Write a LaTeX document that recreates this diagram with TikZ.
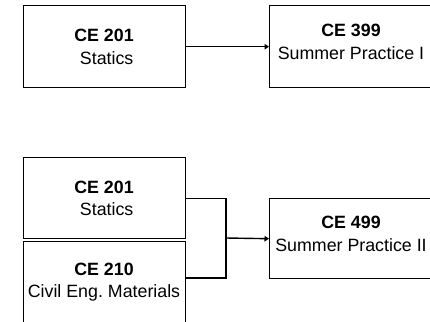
\documentclass[tikz,border=0pt]{standalone}
\usepackage{fontspec}
\setmainfont{Liberation Sans}
\usetikzlibrary{arrows.meta,calc}
\frenchspacing
\begin{document}
\begin{tikzpicture}[x=1pt,y=-1pt,
  box/.style={draw=black,line width=1.4pt,minimum width=162pt,minimum height=82pt,inner sep=0pt,anchor=north west},
  lbl/.style={align=center,inner sep=0pt,font=\fontsize{17.8pt}{22.5pt}\selectfont},
  conn/.style={line width=1.4pt,draw=black},
  arr/.style={conn,-{Triangle[length=4.5pt,width=5.5pt]}}]
\useasboundingbox (0,0) rectangle (430,321);
% top row
\node[box] (a201) at (23,5) {};
\node[box,minimum width=170pt] (a399) at (269,5) {};
\node[lbl] (ta201) at (104,47) {\textbf{CE 201}\\\hspace*{0.3em}Statics};
\node[lbl] (ta399) at (351,42) {\textbf{CE 399}\\Summer Practice I};
\draw[arr] (a201.east) -- (a399.west);
% bottom row
\node[box,minimum height=81pt] (b201) at (23,157) {};
\node[box,minimum height=90pt] (b210) at (23,241) {};
\node[box,minimum height=80pt,minimum width=170pt] (b499) at (269,198) {};
\node[lbl] (tb201) at (104,198.5) {\textbf{CE 201}\\\hspace*{0.3em}Statics};
\node[lbl] (tb210) at (104,282) {\textbf{CE 210}\\Civil Eng. Materials};
\node[lbl] (tb499) at (351,234) {\textbf{CE 499}\\Summer Practice II};
\coordinate (j) at (226,238);
\coordinate (c210) at (185,278);
\draw[conn] (b201.east) -| (j) |- (c210);
\draw[arr] (j) -- (b499.west);
\end{tikzpicture}
\end{document}
